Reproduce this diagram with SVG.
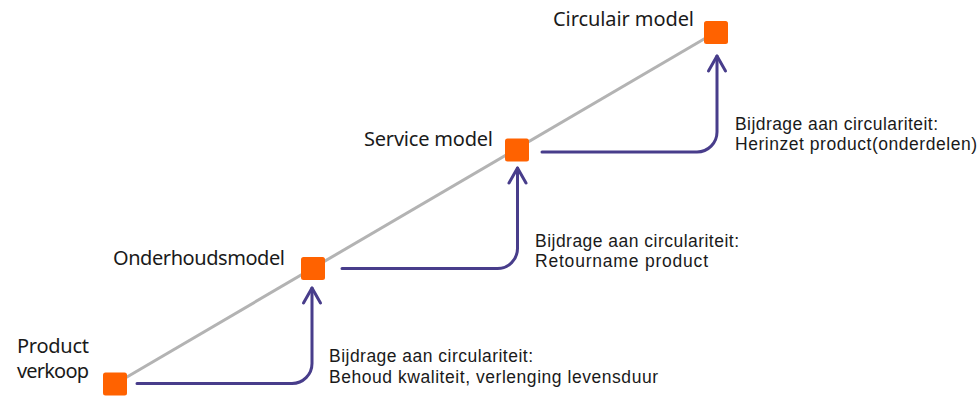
<svg xmlns="http://www.w3.org/2000/svg" width="979" height="396" viewBox="0 0 979 396">
  <style>
    .node { fill: #FF6200; }
    .lbl { font-family: "Noto Sans", "Open Sans", "Liberation Sans", sans-serif; font-size: 20px; fill: #1a1a1a; }
    .sm { font-family: "Liberation Sans", "Noto Sans", sans-serif; font-size: 17.5px; fill: #1a1a1a; }
    .conn { fill: none; stroke: #483D8B; stroke-width: 3; stroke-linecap: round; }
  </style>
  <defs>
    <marker id="arrow" markerUnits="userSpaceOnUse" markerWidth="24" markerHeight="24" viewBox="-18 -12 24 24" refX="0" refY="0" orient="auto">
      <path d="M -15 -8.5 L 0 0 L -15 8.5" fill="none" stroke="#483D8B" stroke-width="3" stroke-linecap="round" stroke-linejoin="round"/>
    </marker>
  </defs>
  <rect width="979" height="396" fill="#ffffff"/>
  <g id="timeline">
    <line x1="115" y1="384" x2="716" y2="32" stroke="#B3B3B3" stroke-width="3"/>
  </g>
  <g id="connectors">
    <path class="conn" d="M137 383.5 H292 A20 20 0 0 0 312 363.5 V288" marker-end="url(#arrow)"/>
    <path class="conn" d="M342 268.5 H497.5 A20 20 0 0 0 517.5 248.5 V168" marker-end="url(#arrow)"/>
    <path class="conn" d="M542 152 H697 A20 20 0 0 0 717 132 V56" marker-end="url(#arrow)"/>
  </g>
  <g id="product-verkoop">
    <rect class="node" x="103" y="372.5" width="24" height="23" rx="2.5"/>
    <text class="lbl" x="17" y="353" textLength="72">Product</text>
    <text class="lbl" x="17" y="378" textLength="72">verkoop</text>
  </g>
  <g id="onderhoudsmodel">
    <rect class="node" x="301" y="257" width="24" height="23" rx="2.5"/>
    <text class="lbl" x="113" y="265" textLength="172">Onderhoudsmodel</text>
  </g>
  <g id="service-model">
    <rect class="node" x="505" y="138.5" width="24" height="23" rx="2.5"/>
    <text class="lbl" x="364" y="145.5" textLength="129">Service model</text>
  </g>
  <g id="circulair-model">
    <rect class="node" x="704" y="21" width="24" height="23" rx="2.5"/>
    <text class="lbl" x="553" y="26" textLength="141">Circulair model</text>
  </g>
  <g id="label-1">
    <text class="sm" x="329" y="362" textLength="204">Bijdrage aan circulariteit:</text>
    <text class="sm" x="329" y="382.5" textLength="329">Behoud kwaliteit, verlenging levensduur</text>
  </g>
  <g id="label-2">
    <text class="sm" x="535" y="246.5" textLength="204">Bijdrage aan circulariteit:</text>
    <text class="sm" x="535" y="266.5" textLength="173">Retourname product</text>
  </g>
  <g id="label-3">
    <text class="sm" x="735" y="130" textLength="203">Bijdrage aan circulariteit:</text>
    <text class="sm" x="735" y="150" textLength="242">Herinzet product(onderdelen)</text>
  </g>
</svg>
